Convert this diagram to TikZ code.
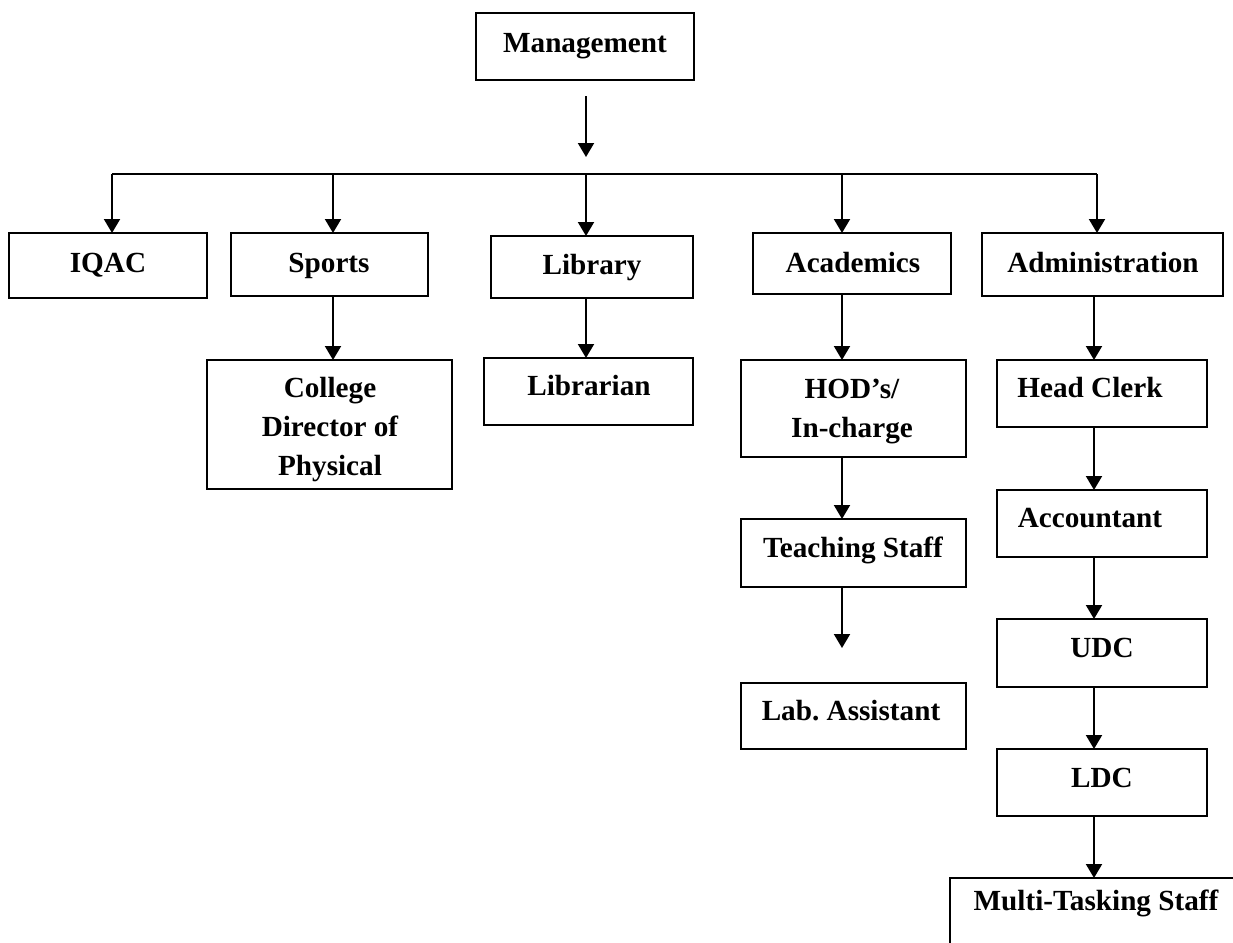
\documentclass[tikz,border=0pt]{standalone}
\usepackage{fontspec}
\setmainfont{Liberation Serif}
\usetikzlibrary{arrows.meta}
\begin{document}
\begin{tikzpicture}[x=0.5pt,y=-0.5pt,
  box/.style={draw,line width=1pt,inner sep=0pt,outer sep=0pt},
  lbl/.style={anchor=base,inner sep=0pt,align=center,font=\fontsize{14.6}{19.3}\selectfont\bfseries},
  arr/.style={line width=1pt,-{Triangle[length=7pt,width=8pt]}},
  ln/.style={line width=1pt}]
\useasboundingbox (0,0) rectangle (1233,943);
% boxes
\node[box,minimum width=109pt,minimum height=33.5pt] (mgmt) at (585,46.5) {};
\node[box,minimum width=99pt,minimum height=32.5pt] (iqac) at (108,265.5) {};
\node[box,minimum width=98.5pt,minimum height=31.5pt] (sports) at (329.5,264.5) {};
\node[box,minimum width=101pt,minimum height=31pt] (library) at (592,267) {};
\node[box,minimum width=99pt,minimum height=30.5pt] (acad) at (852,263.5) {};
\node[box,minimum width=120.5pt,minimum height=31.5pt] (admin) at (1102.5,264.5) {};
\node[box,minimum width=122.5pt,minimum height=64.5pt] (college) at (329.5,424.5) {};
\node[box,minimum width=104.5pt,minimum height=33.5pt] (librarian) at (588.5,391.5) {};
\node[box,minimum width=112.5pt,minimum height=48.5pt] (hod) at (853.5,408.5) {};
\node[box,minimum width=112.5pt,minimum height=34pt] (teach) at (853.5,553) {};
\node[box,minimum width=112.5pt,minimum height=33pt] (lab) at (853.5,716) {};
\node[box,minimum width=105pt,minimum height=33.5pt] (head) at (1102,393.5) {};
\node[box,minimum width=105pt,minimum height=33.5pt] (acc) at (1102,523.5) {};
\node[box,minimum width=105pt,minimum height=34pt] (udc) at (1102,653) {};
\node[box,minimum width=105pt,minimum height=33.5pt] (ldc) at (1102,782.5) {};
% open box of Multi-Tasking Staff
\coordinate (mtl) at (950,878);
\coordinate (mtr) at (1233,878);
\coordinate (mtb) at (950,943);
\draw[ln] (mtb) -- (mtl) -- (mtr);
% labels
\node[lbl] (tmgmt) at (585,52) {Management};
\node[lbl] (tiqac) at (108,272) {IQAC};
\node[lbl] (tsports) at (329,272) {Sports};
\node[lbl] (tlibrary) at (592,274) {Library};
\node[lbl] (tacad) at (853,272) {Academics};
\node[lbl] (tadmin) at (1103,272) {Administration};
\node[lbl] (tcollege) at (330,475) {College\\Director of\\Physical};
\node[lbl] (tlibrarian) at (589,395) {Librarian};
\node[lbl] (thod) at (852,437) {HOD’s/\\In-charge};
\node[lbl] (tteach) at (853,557) {Teaching Staff};
\node[lbl] (tlab) at (851,720) {Lab.\ Assistant};
\node[lbl] (thead) at (1090,397) {Head Clerk};
\node[lbl] (tacc) at (1090,527) {Accountant};
\node[lbl] (tudc) at (1102,657) {UDC};
\node[lbl] (tldc) at (1102,787) {LDC};
\node[lbl] (tmulti) at (1096,910) {Multi-Tasking Staff};
% connectors
\coordinate (bus) at (586,174);
\coordinate (busl) at (112,174);
\coordinate (busr) at (1097,174);
\coordinate (c1) at (333,174);
\coordinate (c3) at (842,174);
\coordinate (acol) at (1094,0);
\draw[arr,shorten <=8pt,shorten >=8.5pt] (mgmt.south -| bus) -- (bus);
\draw[ln] (busl) -- (busr);
\draw[arr] (busl) -- (iqac.north -| busl);
\draw[arr] (c1) -- (sports.north -| c1);
\draw[arr] (bus) -- (library.north -| bus);
\draw[arr] (c3) -- (acad.north -| c3);
\draw[arr] (busr) -- (admin.north -| busr);
\draw[arr] (sports.south -| c1) -- (college.north -| c1);
\draw[arr] (library.south -| bus) -- (librarian.north -| bus);
\draw[arr] (acad.south -| c3) -- (hod.north -| c3);
\draw[arr] (hod.south -| c3) -- (teach.north -| c3);
\draw[arr,shorten >=17.5pt] (teach.south -| c3) -- (lab.north -| c3);
\draw[arr] (admin.south -| acol) -- (head.north -| acol);
\draw[arr] (head.south -| acol) -- (acc.north -| acol);
\draw[arr] (acc.south -| acol) -- (udc.north -| acol);
\draw[arr] (udc.south -| acol) -- (ldc.north -| acol);
\draw[arr] (ldc.south -| acol) -- (mtl -| acol);
\end{tikzpicture}
\end{document}
